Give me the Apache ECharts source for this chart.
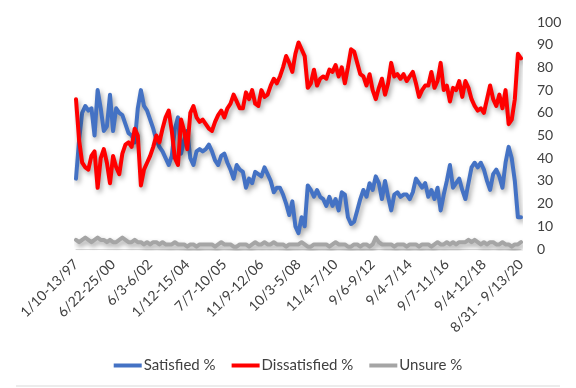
<!DOCTYPE html>
<html>
<head>
<meta charset="utf-8">
<script src="https://cdn.jsdelivr.net/npm/echarts@6/dist/echarts.min.js"></script>
<style>
html,body{margin:0;padding:0;background:#fff;}
#c{width:576px;height:388px;}
</style>
</head>
<body>
<div id="c"></div>
<script>
// Tick labels shown every 12 categories (index 0, 12, ..., 144)
const tickLabels = ['1/10-13/97','6/22-25/00','6/3-6/02','1/12-15/04','7/7-10/05','11/9-12/06','10/3-5/08','11/4-7/10','9/6-9/12','9/4-7/14','9/7-11/16','9/4-12/18','8/31 - 9/13/20'];
const labelStep = 12;

const satisfied = [
 31,48,60,63,61,62,50,70,62,52,54,68,52,62,60,59,55,
 51,50,47,62,70,63,61,57,53,48,45,43,40,37,41,53,58,42,
 48,52,40,37,43,44,43,44,46,43,39,37,41,42,38,35,31,37,
 35,34,27,31,29,34,33,32,36,33,30,25,27,27,24,20,15,21,10,
 7,14,10,28,26,23,26,23,22,19,23,19,22,17,25,24,14,11,12,17,
 22,26,23,29,26,32,29,22,30,23,17,24,
 25,23,24,24,22,25,31,29,27,29,23,26,22,27,17,24,30,37,27,29,
 31,26,22,29,36,38,36,38,35,30,26,33,35,32,27,38,45,40,30,14,14
];
const dissatisfied = [
 66,48,38,36,35,41,43,27,40,44,38,29,41,36,33,42,46,
 47,45,53,50,28,35,38,41,45,50,47,53,58,61,52,40,37,57,
 52,44,60,63,58,56,57,55,53,52,56,59,61,58,62,64,68,65,
 62,62,69,66,70,64,63,70,67,68,72,75,73,76,80,85,82,78,86,
 91,88,85,71,73,79,72,75,76,75,79,78,81,76,80,73,80,88,87,82,
 77,76,72,77,70,66,71,75,68,73,82,76,
 77,75,77,74,76,78,73,67,70,72,72,78,71,74,82,70,72,65,71,70,
 74,67,74,71,66,63,61,62,60,66,72,66,63,68,62,70,55,57,66,86,84
];
const unsure = [
 4,3,4,5,4,3,4,5,4,4,3,4,3,3,4,5,4,3,3,4,
 3,3,2,3,2,3,3,2,3,2,2,2,3,2,2,2,1,2,2,1,
 2,2,2,2,2,1,2,3,2,2,2,1,1,2,2,2,1,2,3,2,
 2,3,2,2,3,2,2,2,1,2,2,2,2,3,2,1,1,2,2,2,
 2,2,1,2,3,2,2,2,1,1,2,2,1,2,2,1,2,5,3,2,
 2,2,2,1,2,2,2,1,2,2,2,1,2,2,2,1,2,3,2,2,
 3,2,3,2,3,3,3,4,3,4,3,2,3,2,3,3,2,2,3,2,
 2,1,2,2,3
];
const seriesNames = ['Satisfied %','Dissatisfied %','Unsure %'];
const seriesColors = ['#4472C4','#FF0000','#A5A5A5'];

const categories = satisfied.map((_, i) => i);
const values = [satisfied, dissatisfied, unsure];

const chart = echarts.init(document.getElementById('c'), null, {renderer:'canvas'});
chart.setOption({
  animation:false,
  backgroundColor:'#fff',
  textStyle:{fontFamily:'Lato'},
  grid:{left:76,right:55,top:22,bottom:139,containLabel:false},
  legend:{
    top:353, left:'center',
    itemWidth:28, itemHeight:4, itemGap:16, icon:'rect',
    textStyle:{fontFamily:'Lato',fontSize:15,color:'#404040',padding:[0,0,0,-3]},
    data:seriesNames
  },
  xAxis:{
    type:'category', boundaryGap:false, data:categories,
    axisLine:{show:true,lineStyle:{color:'#d9d9d9',width:1}},
    axisTick:{show:false},
    splitLine:{show:false},
    axisLabel:{
      interval:labelStep-1, rotate:45, margin:13,
      fontFamily:'Lato', fontSize:14, color:'#404040',
      formatter:(v)=>{ const i=Number(v); return i%labelStep===0 ? tickLabels[i/labelStep] : ''; }
    }
  },
  yAxis:{
    type:'value', position:'right', min:0, max:100, interval:10,
    axisLine:{show:false}, axisTick:{show:false}, splitLine:{show:false},
    axisLabel:{margin:16,fontFamily:'Lato',fontSize:14,color:'#404040'}
  },
  graphic:[{type:'line',shape:{x1:16,y1:386,x2:560,y2:386},style:{stroke:'#d9d9d9',lineWidth:1},silent:true}],
  series: values.map((d,k)=>({
    name:seriesNames[k], type:'line', data:d, showSymbol:false, symbol:'none',
    color:seriesColors[k],
    lineStyle:{width:4,color:seriesColors[k],join:'round',cap:'round',
      shadowColor:'rgba(0,0,0,0.35)',shadowBlur:5,shadowOffsetX:2,shadowOffsetY:3},
    itemStyle:{color:seriesColors[k]}
  }))
});
</script>
</body>
</html>
